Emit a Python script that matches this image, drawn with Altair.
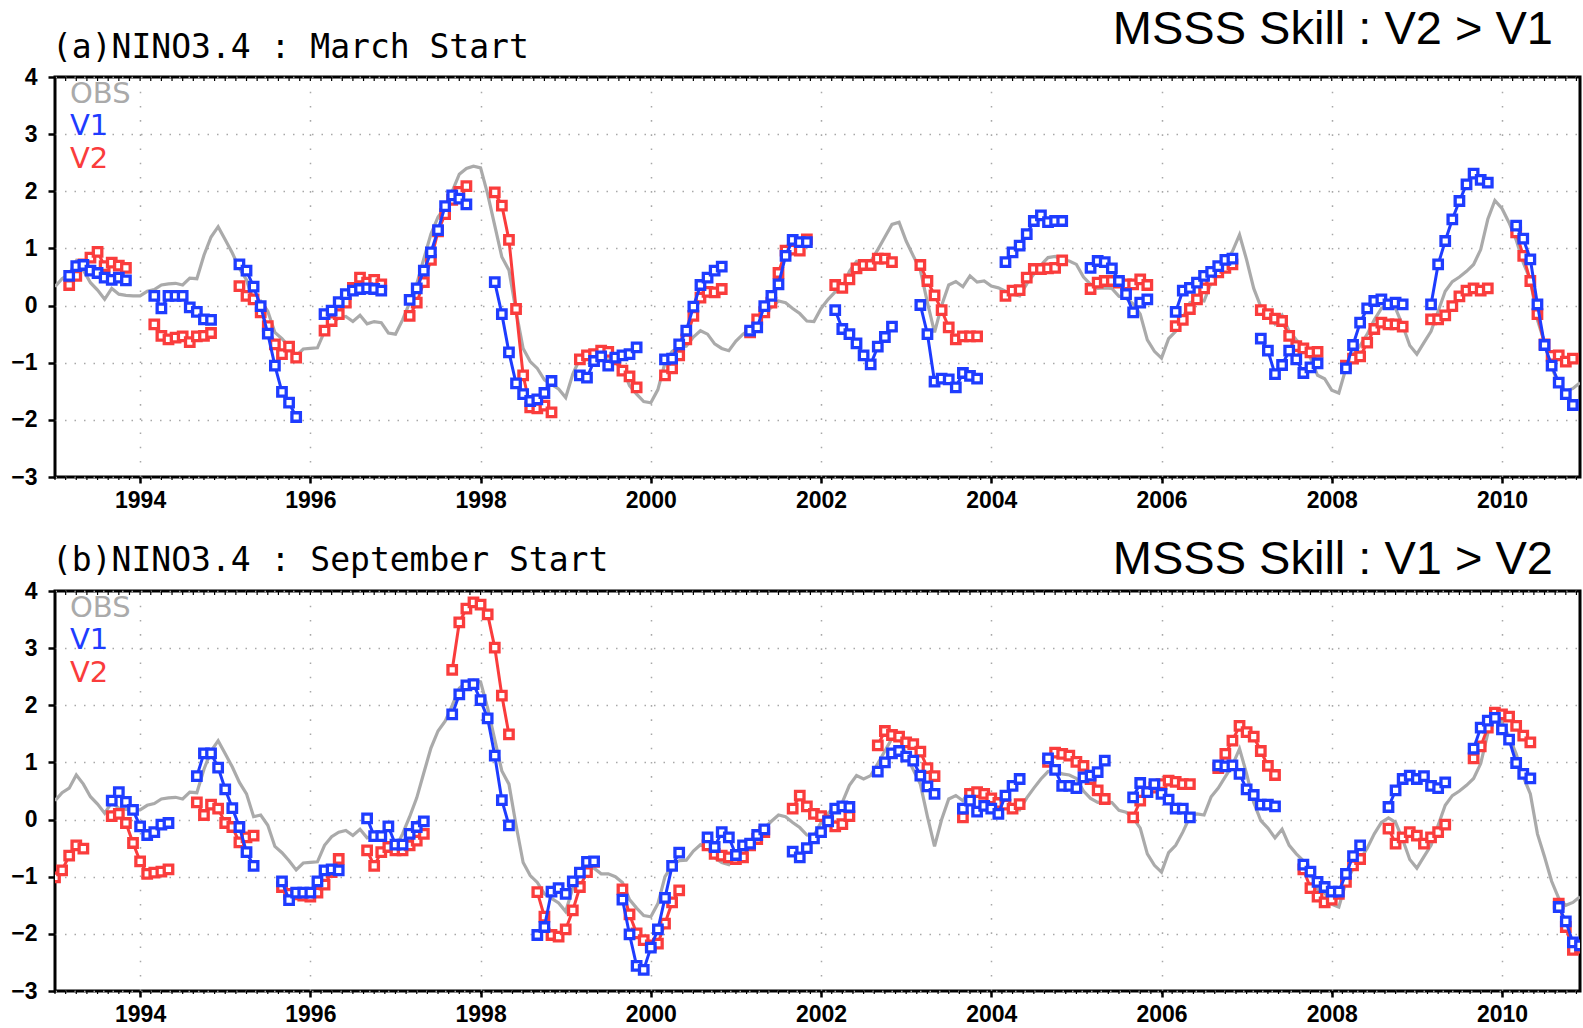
import altair as alt
import pandas as pd

# ---------------- data ----------------
# Observed NINO3.4 anomaly, monthly, Jan 1993 .. Dec 2010
OBS = [
    0.33, 0.47, 0.55, 0.78, 0.62, 0.40, 0.27, 0.11, 0.30, 0.20, 0.18, 0.17,   # 1993
    0.17, 0.25, 0.28, 0.36, 0.38, 0.39, 0.36, 0.48, 0.47, 0.88, 1.20, 1.38,   # 1994
    1.15, 0.92, 0.65, 0.45, 0.05, 0.08, -0.10, -0.47, -0.58, -0.72, -0.88, -0.76,  # 1995
    -0.75, -0.74, -0.45, -0.30, -0.22, -0.19, -0.28, -0.17, -0.32, -0.28, -0.30, -0.48,  # 1996
    -0.50, -0.25, 0.05, 0.38, 0.82, 1.25, 1.55, 1.72, 2.00, 2.30, 2.40, 2.44,  # 1997
    2.41, 1.95, 1.40, 0.85, 0.62, -0.10, -0.75, -0.98, -1.10, -1.30, -1.38, -1.46,  # 1998
    -1.61, -1.20, -0.93, -0.85, -0.85, -0.95, -0.95, -1.00, -1.10, -1.40, -1.55, -1.68,  # 1999
    -1.70, -1.47, -1.00, -0.80, -0.72, -0.71, -0.55, -0.44, -0.50, -0.67, -0.75, -0.79,  # 2000
    -0.62, -0.50, -0.41, -0.30, -0.15, -0.03, 0.08, 0.05, -0.05, -0.14, -0.27, -0.28,  # 2001
    -0.05, 0.11, 0.24, 0.30, 0.60, 0.77, 0.71, 0.77, 0.98, 1.20, 1.42, 1.46,  # 2002
    1.13, 0.87, 0.62, 0.05, -0.47, 0.00, 0.36, 0.42, 0.33, 0.52, 0.41, 0.43,  # 2003
    0.34, 0.31, 0.25, 0.20, 0.17, 0.38, 0.55, 0.71, 0.84, 0.86, 0.80, 0.78,  # 2004
    0.72, 0.50, 0.37, 0.30, 0.31, 0.30, 0.16, 0.13, 0.03, -0.15, -0.60, -0.80,  # 2005
    -0.92, -0.58, -0.45, -0.22, 0.05, 0.10, 0.08, 0.40, 0.55, 0.75, 0.95, 1.24,  # 2006
    0.80, 0.30, -0.02, -0.15, -0.32, -0.17, -0.45, -0.60, -0.72, -0.92, -1.22, -1.28,  # 2007
    -1.48, -1.53, -1.10, -0.86, -0.70, -0.50, -0.25, -0.05, 0.03, -0.05, -0.35, -0.70,  # 2008
    -0.85, -0.65, -0.45, -0.10, 0.25, 0.42, 0.50, 0.60, 0.72, 0.98, 1.51, 1.84,  # 2009
    1.70, 1.45, 1.15, 0.75, 0.45, -0.25, -0.65, -1.08, -1.38, -1.50, -1.45, -1.35,  # 2010
]

# (a) March start forecasts: Mar..Nov of each year 1993..2010
A_START_YEARS = list(range(1993, 2011))
A_START_MONTHS = [3] * 18
A_V1 = [
    [0.52, 0.69, 0.71, 0.61, 0.57, 0.49, 0.45, 0.49, 0.44],
    [0.17, -0.05, 0.17, 0.17, 0.17, -0.03, -0.11, -0.24, -0.25],
    [0.72, 0.61, 0.33, -0.01, -0.49, -1.05, -1.51, -1.70, -1.95],
    [-0.15, -0.09, 0.06, 0.20, 0.26, 0.29, 0.30, 0.29, 0.26],
    [0.10, 0.30, 0.61, 0.93, 1.32, 1.74, 1.93, 1.87, 1.77],
    [0.41, -0.15, -0.82, -1.36, -1.55, -1.67, -1.64, -1.53, -1.32],
    [-1.22, -1.26, -0.97, -0.89, -1.05, -0.91, -0.87, -0.85, -0.73],
    [-0.94, -0.93, -0.68, -0.44, -0.02, 0.36, 0.49, 0.61, 0.68],
    [-0.44, -0.38, -0.01, 0.17, 0.37, 0.87, 1.15, 1.11, 1.11],
    [-0.08, -0.41, -0.50, -0.66, -0.87, -1.03, -0.72, -0.55, -0.37],
    [0.01, -0.50, -1.33, -1.28, -1.29, -1.43, -1.18, -1.23, -1.28],
    [0.76, 0.93, 1.05, 1.25, 1.48, 1.58, 1.46, 1.48, 1.48],
    [0.66, 0.78, 0.76, 0.65, 0.43, 0.20, -0.12, 0.05, 0.11],
    [-0.11, 0.26, 0.31, 0.40, 0.52, 0.59, 0.69, 0.80, 0.82],
    [-0.58, -0.79, -1.20, -1.04, -0.79, -0.94, -1.18, -1.08, -1.01],
    [-1.10, -0.69, -0.30, -0.05, 0.08, 0.11, 0.02, 0.05, 0.02],
    [0.02, 0.72, 1.13, 1.51, 1.83, 2.12, 2.31, 2.20, 2.15],
    [1.40, 1.17, 0.81, 0.02, -0.69, -1.05, -1.35, -1.55, -1.74],
]
A_V2 = [
    [0.36, 0.52, 0.72, 0.84, 0.94, 0.69, 0.75, 0.70, 0.66],
    [-0.33, -0.53, -0.59, -0.56, -0.54, -0.64, -0.54, -0.53, -0.48],
    [0.34, 0.17, 0.11, -0.12, -0.36, -0.68, -0.85, -0.72, -0.91],
    [-0.44, -0.27, -0.15, 0.05, 0.31, 0.49, 0.40, 0.45, 0.37],
    [-0.18, 0.05, 0.41, 0.80, 1.30, 1.60, 1.85, 1.99, 2.09],
    [1.98, 1.75, 1.15, -0.06, -1.22, -1.78, -1.80, -1.75, -1.87],
    [-0.94, -0.87, -0.85, -0.79, -0.81, -0.94, -1.14, -1.24, -1.43],
    [-1.22, -1.10, -0.87, -0.59, -0.18, 0.14, 0.24, 0.23, 0.29],
    [-0.47, -0.24, -0.12, 0.05, 0.57, 0.96, 0.98, 0.96, 1.16],
    [0.36, 0.31, 0.46, 0.65, 0.71, 0.71, 0.82, 0.82, 0.76],
    [0.71, 0.43, 0.18, -0.08, -0.38, -0.59, -0.54, -0.54, -0.54],
    [0.17, 0.26, 0.27, 0.49, 0.64, 0.64, 0.65, 0.66, 0.79],
    [0.29, 0.40, 0.43, 0.43, 0.40, 0.37, 0.37, 0.46, 0.36],
    [-0.36, -0.25, -0.06, 0.11, 0.30, 0.45, 0.58, 0.66, 0.72],
    [-0.08, -0.15, -0.23, -0.27, -0.53, -0.71, -0.75, -0.82, -0.81],
    [-1.05, -0.93, -0.89, -0.65, -0.41, -0.30, -0.33, -0.33, -0.37],
    [-0.24, -0.24, -0.17, -0.01, 0.16, 0.26, 0.30, 0.26, 0.30],
    [1.28, 0.87, 0.43, -0.15, -0.68, -0.88, -0.87, -0.98, -0.93],
]

# (b) September start forecasts: Sep..May
B_V1_START_YEARS = list(range(1993, 2011))
B_V1_START_MONTHS = [9] * 18
B_V1 = [
    [0.33, 0.48, 0.31, 0.17, -0.12, -0.27, -0.22, -0.09, -0.06],
    [0.76, 1.16, 1.16, 0.91, 0.53, 0.20, -0.13, -0.57, -0.81],
    [-1.08, -1.41, -1.28, -1.28, -1.28, -1.08, -0.89, -0.87, -0.89],
    [0.02, -0.29, -0.29, -0.12, -0.44, -0.44, -0.25, -0.13, -0.03],
    [1.84, 2.19, 2.35, 2.37, 2.09, 1.77, 1.12, 0.34, -0.10],
    [-2.02, -1.88, -1.26, -1.20, -1.30, -1.08, -0.93, -0.74, -0.73],
    [-1.40, -2.01, -2.56, -2.63, -2.24, -1.92, -1.37, -0.81, -0.58],
    [-0.31, -0.48, -0.22, -0.31, -0.62, -0.45, -0.42, -0.27, -0.17],
    [-0.56, -0.66, -0.50, -0.33, -0.22, -0.03, 0.19, 0.23, 0.22],
    [0.84, 1.00, 1.16, 1.20, 1.10, 1.03, 0.77, 0.58, 0.45],
    [0.19, 0.33, 0.14, 0.24, 0.19, 0.10, 0.42, 0.59, 0.71],
    [1.07, 0.87, 0.59, 0.59, 0.55, 0.74, 0.77, 0.83, 1.03],
    [0.39, 0.64, 0.48, 0.62, 0.45, 0.35, 0.19, 0.19, 0.04],
    [0.95, 0.93, 0.95, 0.80, 0.53, 0.43, 0.26, 0.26, 0.23],
    [-0.79, -0.91, -1.09, -1.18, -1.26, -1.26, -0.95, -0.64, -0.45],
    [0.22, 0.51, 0.71, 0.77, 0.71, 0.76, 0.59, 0.55, 0.65],
    [1.24, 1.61, 1.73, 1.78, 1.58, 1.40, 0.99, 0.80, 0.72],
    [-1.53, -1.78, -2.15, -2.20],
]
# first V2 run (Sep 1992 start) is visible from Jan 1993 only
B_V2_START_YEARS = [1993] + list(range(1993, 2011))
B_V2_START_MONTHS = [1] + [9] * 18
B_V2 = [
    [-1.01, -0.89, -0.63, -0.45, -0.51],
    [0.06, 0.10, -0.06, -0.41, -0.73, -0.95, -0.93, -0.91, -0.87],
    [0.30, 0.08, 0.26, 0.19, -0.06, -0.13, -0.40, -0.31, -0.28],
    [-1.18, -1.30, -1.31, -1.33, -1.35, -1.28, -1.14, -0.92, -0.69],
    [-0.54, -0.81, -0.57, -0.48, -0.54, -0.54, -0.45, -0.37, -0.25],
    [2.62, 3.45, 3.69, 3.80, 3.76, 3.59, 3.01, 2.17, 1.49],
    [-1.27, -1.70, -2.02, -2.05, -1.92, -1.59, -1.18, -0.92, -0.74],
    [-1.22, -1.66, -1.99, -2.11, -2.20, -2.17, -1.82, -1.45, -1.24],
    [-0.45, -0.60, -0.63, -0.66, -0.69, -0.66, -0.45, -0.34, -0.22],
    [0.19, 0.42, 0.23, 0.10, 0.06, -0.02, -0.12, -0.08, 0.06],
    [1.30, 1.55, 1.48, 1.45, 1.35, 1.32, 1.19, 0.90, 0.76],
    [0.04, 0.45, 0.48, 0.45, 0.37, 0.29, 0.26, 0.19, 0.27],
    [1.01, 1.17, 1.15, 1.12, 1.01, 0.94, 0.71, 0.51, 0.36],
    [0.04, 0.33, 0.48, 0.56, 0.62, 0.68, 0.66, 0.62, 0.62],
    [0.90, 1.15, 1.38, 1.64, 1.53, 1.45, 1.20, 0.94, 0.78],
    [-0.87, -1.20, -1.35, -1.45, -1.40, -1.30, -1.09, -0.80, -0.69],
    [-0.16, -0.42, -0.31, -0.22, -0.28, -0.42, -0.31, -0.22, -0.09],
    [1.07, 1.28, 1.61, 1.87, 1.84, 1.80, 1.64, 1.47, 1.35],
    [-1.47, -1.88, -2.28, -2.24],
]

YEAR_TICKS = [1994, 1996, 1998, 2000, 2002, 2004, 2006, 2008, 2010]
Y_TICKS = [-3, -2, -1, 0, 1, 2, 3, 4]
MINOR_TICK_MONTHS = [i * 1.5 for i in range(144)]

TITLE_A = "(a)NINO3.4 : March Start"
TITLE_B = "(b)NINO3.4 : September Start"
SKILL_A = "MSSS Skill : V2 > V1"
SKILL_B = "MSSS Skill : V1 > V2"
LEGEND = ["OBS", "V1", "V2"]

GRAY = "#aaaaaa"
BLUE = "#1e3cff"
RED = "#fa3c3c"

W, H = 1525, 400

# ---------------- tables ----------------
obs_df = pd.DataFrame({"t": [1993 + m / 12 for m in range(len(OBS))], "v": OBS})
tick_df = pd.DataFrame({"t": [1993 + m / 12 for m in MINOR_TICK_MONTHS if m <= 215]})


def seg_df(years, months, segs):
    rows = []
    for k, (yr, mo, vals) in enumerate(zip(years, months, segs)):
        for i, v in enumerate(vals):
            m = (yr - 1993) * 12 + (mo - 1) + i
            rows.append({"t": 1993 + m / 12, "v": v, "seg": k})
    return pd.DataFrame(rows)


XS = alt.Scale(domain=[1993, 2010 + 11 / 12], nice=False, zero=False)
YS = alt.Scale(domain=[-3, 4], nice=False, zero=False)
XAX = alt.Axis(values=YEAR_TICKS, format="d", title=None, grid=True,
               gridDash=[1.6, 12.6], tickSize=6, labelPadding=6,
               labelFont="Liberation Sans", labelFontWeight="bold",
               labelFontSize=23, labelColor="black", tickColor="black",
               tickWidth=2.5, domain=False, gridColor="#a8a8a8", gridWidth=1.5)
YAX = alt.Axis(values=Y_TICKS, title=None, grid=True,
               gridDash=[1.5, 8], tickSize=7, labelPadding=11,
               labelFont="Liberation Sans", labelFontWeight="bold",
               labelFontSize=23, labelColor="black", tickColor="black",
               tickWidth=2.5, domain=False, gridColor="#a8a8a8", gridWidth=1.5)


def text_layer(txt, x, y, size, color, font, align="left", weight="normal"):
    return alt.Chart(pd.DataFrame({"label": [txt]})).mark_text(
        align=align, baseline="alphabetic", fontSize=size, font=font,
        color=color, fontWeight=weight
    ).encode(text="label:N", x=alt.value(x), y=alt.value(y))


def panel(v1, v2, title, title_y, skill, skill_y):
    xenc = alt.X("t:Q", scale=XS, axis=XAX)
    yenc = alt.Y("v:Q", scale=YS, axis=YAX)
    obs = alt.Chart(obs_df).mark_line(color=GRAY, strokeWidth=3.2, clip=True).encode(
        x=xenc, y=yenc)

    def series(df, color):
        line = alt.Chart(df).mark_line(color=color, strokeWidth=3, clip=True).encode(
            x=xenc, y=yenc, detail="seg:N")
        pts = alt.Chart(df).mark_point(
            shape="square", filled=True, fill="white", stroke=color,
            strokeWidth=3.3, size=72, opacity=1, clip=True).encode(x=xenc, y=yenc)
        return [line, pts]

    tb = alt.Chart(tick_df).mark_rule(color="black", strokeWidth=1.2).encode(
        x=alt.X("t:Q", scale=XS, axis=XAX), y=alt.value(H), y2=alt.value(H + 3))
    tt = alt.Chart(tick_df).mark_rule(color="black", strokeWidth=1.2).encode(
        x=alt.X("t:Q", scale=XS, axis=XAX), y=alt.value(0), y2=alt.value(4))

    texts = [
        text_layer(title, -3, title_y, 33, "black", "DejaVu Sans Mono"),
        text_layer(skill, 1498, skill_y, 47, "black", "Liberation Sans", align="right"),
        text_layer(LEGEND[0], 15, 26, 29, GRAY, "DejaVu Sans"),
        text_layer(LEGEND[1], 15, 58, 29, BLUE, "DejaVu Sans"),
        text_layer(LEGEND[2], 15, 91, 29, RED, "DejaVu Sans"),
    ]
    layers = [obs, tb, tt] + series(v2, RED) + series(v1, BLUE) + texts
    return alt.layer(*layers).properties(width=W, height=H)


pa = panel(seg_df(A_START_YEARS, A_START_MONTHS, A_V1),
           seg_df(A_START_YEARS, A_START_MONTHS, A_V2), TITLE_A, -19, SKILL_A, -33)
pb = panel(seg_df(B_V1_START_YEARS, B_V1_START_MONTHS, B_V1),
           seg_df(B_V2_START_YEARS, B_V2_START_MONTHS, B_V2), TITLE_B, -20, SKILL_B, -17)

chart = alt.vconcat(pa, pb, spacing=114, bounds="flush").properties(
    padding={"left": 9, "top": 4, "right": 0, "bottom": 0},
    background="white",
).configure_view(stroke="black", strokeWidth=3)

chart.save("out.html", embed_options={"renderer": "svg", "actions": False})
